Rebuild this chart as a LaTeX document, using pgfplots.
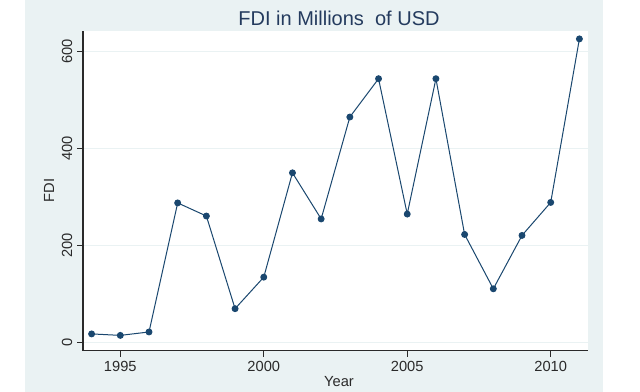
\documentclass[border=0pt]{standalone}
\usepackage{fontspec}
\setmainfont{Liberation Sans}
\usepackage{pgfplots}
\pgfplotsset{compat=1.18}
\definecolor{panel}{HTML}{EAF2F3}
\definecolor{gridc}{HTML}{EAF2F3}
\definecolor{navy}{HTML}{1A476F}
\definecolor{titlec}{HTML}{243B5E}
\definecolor{axc}{HTML}{2A2A2A}
\begin{document}
\begin{tikzpicture}
\fill[white] (0pt,0pt) rectangle (480pt,294pt);
\fill[panel] (18.75pt,0pt) rectangle (452.25pt,294pt);
\begin{axis}[
  at={(62.25pt,31pt)}, anchor=south west,
  scale only axis, width=378.75pt, height=240pt,
  xmin=1993.7, xmax=2011.3, ymin=-16.5, ymax=643,
  axis background/.style={fill=white},
  axis lines*=left,
  axis line style={axc, line width=0.8pt},
  tick align=outside,
  major tick length=4.5pt,
  tick style={axc, line width=0.8pt},
  xtick={1995,2000,2005,2010},
  ytick={0,200,400,600},
  ymajorgrids,
  major grid style={gridc, line width=0.9pt},
  /pgf/number format/assume math mode=true,
  /pgf/number format/1000 sep={},
  tick label style={font=\fontsize{11}{13}\selectfont, text=axc},
  y tick label style={rotate=90, anchor=south},
  xlabel={Year}, ylabel={FDI},
  label style={font=\fontsize{11}{13}\selectfont, text=axc},
  xlabel style={at={(axis description cs:0.507,-0.098)}, anchor=center},
  ylabel style={at={(axis description cs:-0.0673,0.5)}, anchor=center},
  clip=false,
]
\addplot[navy, line width=0.75pt, mark=*, mark size=2.2pt, mark options={fill=navy, draw=navy}] coordinates {
(1994,18) (1995,15) (1996,22) (1997,288) (1998,261) (1999,70) (2000,135)
(2001,350) (2002,255) (2003,465) (2004,544) (2005,265) (2006,544)
(2007,223) (2008,111) (2009,221) (2010,289) (2011,626)
};
\end{axis}
\node[font=\fontsize{15}{18}\selectfont, text=titlec] at (254.25pt,280.5pt) {FDI in Millions\ \ of USD};
\end{tikzpicture}
\end{document}
